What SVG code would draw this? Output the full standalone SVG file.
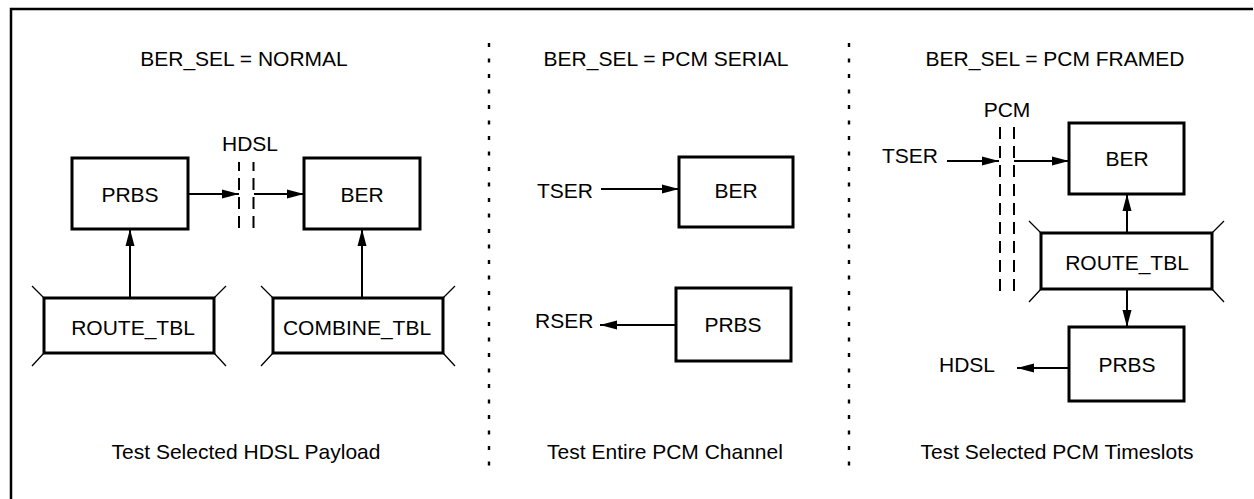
<svg xmlns="http://www.w3.org/2000/svg" width="1254" height="499" viewBox="0 0 1254 499">
<defs>
<style>
text{font-family:"Liberation Sans",Arial,sans-serif;font-size:21px;fill:#000}
.c{text-anchor:middle}
.box{fill:#fff;stroke:#000;stroke-width:3}
.tick{stroke:#000;stroke-width:1.3;fill:none}
.conn{stroke:#000;stroke-width:2;fill:none}
.bus{stroke:#000;stroke-width:2;fill:none;stroke-dasharray:12 7}
.sep{stroke:#000;stroke-width:2.4;fill:none;stroke-dasharray:4 11.5}
.frame{stroke:#000;stroke-width:2.5;fill:none}
</style>
<marker id="ah" markerUnits="userSpaceOnUse" markerWidth="17" markerHeight="10" refX="17" refY="5" orient="auto">
<path d="M0,0.5 L17,5 L0,9.5 Z" fill="#000"/>
</marker>
</defs>
<rect width="1254" height="499" fill="#fff"/>
<path class="frame" d="M11,499 V9 H1253"/>
<line class="sep" x1="489" y1="43" x2="489" y2="468"/>
<line class="sep" x1="849" y1="43" x2="849" y2="468"/>

<text class="c" x="244" y="66">BER_SEL = NORMAL</text>
<text class="c" x="666" y="66">BER_SEL = PCM SERIAL</text>
<text class="c" x="1055" y="66">BER_SEL = PCM FRAMED</text>

<text class="c" x="246" y="459">Test Selected HDSL Payload</text>
<text class="c" x="665" y="459">Test Entire PCM Channel</text>
<text class="c" x="1057" y="459">Test Selected PCM Timeslots</text>

<g id="connectors">
<line class="conn" x1="188" y1="194" x2="239" y2="194" marker-end="url(#ah)"/>
<line class="conn" x1="254" y1="194" x2="304" y2="194" marker-end="url(#ah)"/>
<line class="conn" x1="130" y1="298" x2="130" y2="229" marker-end="url(#ah)"/>
<line class="conn" x1="362" y1="298" x2="362" y2="229" marker-end="url(#ah)"/>
<line class="conn" x1="601" y1="189" x2="679" y2="189" marker-end="url(#ah)"/>
<line class="conn" x1="676" y1="325" x2="600" y2="325" marker-end="url(#ah)"/>
<line class="conn" x1="947" y1="161" x2="999" y2="161" marker-end="url(#ah)"/>
<line class="conn" x1="1014" y1="161" x2="1069" y2="161" marker-end="url(#ah)"/>
<line class="conn" x1="1127" y1="233" x2="1127" y2="194" marker-end="url(#ah)"/>
<line class="conn" x1="1127" y1="289" x2="1127" y2="327" marker-end="url(#ah)"/>
<line class="conn" x1="1069" y1="368" x2="1017" y2="368" marker-end="url(#ah)"/>
</g>

<g id="hdsl-bus">
<line class="bus" x1="239" y1="162" x2="239" y2="233" stroke-dashoffset="3"/>
<line class="bus" x1="253.5" y1="162" x2="253.5" y2="233" stroke-dashoffset="3"/>
<text class="c" x="250" y="151">HDSL</text>
</g>

<g id="n1-prbs"><rect class="box" x="72" y="158" width="116" height="71"/><text class="c" x="130" y="202">PRBS</text></g>
<g id="n1-ber"><rect class="box" x="304" y="158" width="116" height="71"/><text class="c" x="362" y="202">BER</text></g>
<g id="n1-route">
<rect class="box" x="44" y="298" width="170" height="55"/>
<path class="tick" d="M32,286 L44,298 M226,286 L214,298 M32,366 L44,353 M226,366 L214,353"/>
<text class="c" x="133" y="335">ROUTE_TBL</text>
</g>
<g id="n1-combine">
<rect class="box" x="273" y="298" width="170" height="55"/>
<path class="tick" d="M261,286 L273,298 M455,286 L443,298 M261,366 L273,353 M455,366 L443,353"/>
<text class="c" x="357" y="335">COMBINE_TBL</text>
</g>

<g id="n2-tser"><text x="537" y="198">TSER</text></g>
<g id="n2-ber"><rect class="box" x="679" y="157" width="114" height="70"/><text class="c" x="736" y="198">BER</text></g>
<g id="n2-rser"><text x="535" y="328">RSER</text></g>
<g id="n2-prbs"><rect class="box" x="676" y="288" width="115" height="73"/><text class="c" x="733" y="332">PRBS</text></g>

<g id="pcm-bus">
<line class="bus" x1="1000" y1="127" x2="1000" y2="293" stroke-dasharray="13 6.5"/>
<line class="bus" x1="1014" y1="127" x2="1014" y2="293" stroke-dasharray="13 6.5"/>
<text class="c" x="1007" y="117">PCM</text>
</g>
<g id="n3-tser"><text x="882" y="163">TSER</text></g>
<g id="n3-ber"><rect class="box" x="1069" y="123" width="115" height="71"/><text class="c" x="1127" y="166">BER</text></g>
<g id="n3-route">
<rect class="box" x="1041" y="233" width="171" height="56"/>
<path class="tick" d="M1029,221 L1041,233 M1224,221 L1212,233 M1029,302 L1041,289 M1224,302 L1212,289"/>
<text class="c" x="1127" y="270">ROUTE_TBL</text>
</g>
<g id="n3-prbs"><rect class="box" x="1069" y="327" width="115" height="74"/><text class="c" x="1127" y="372">PRBS</text></g>
<g id="n3-hdsl"><text x="939" y="372">HDSL</text></g>
</svg>
